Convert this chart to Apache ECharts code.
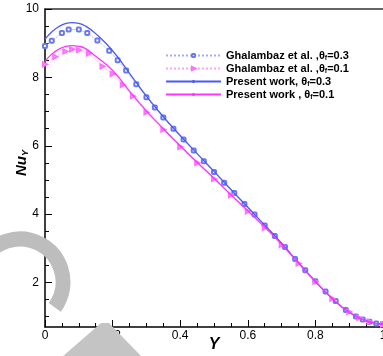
<!DOCTYPE html>
<html>
<head>
<meta charset="utf-8">
<script src="https://cdn.jsdelivr.net/npm/echarts@6/dist/echarts.min.js"></script>
<style>
  html, body { margin: 0; padding: 0; background: #fff; }
  #chart { width: 383px; height: 356px; }
</style>
</head>
<body>
<div id="chart"></div>
<script>
// present work (solid lines)
const presentX = [0, 0.02, 0.04, 0.06, 0.08, 0.1, 0.12, 0.15, 0.2, 0.25, 0.3, 0.35, 0.4, 0.45, 0.5, 0.55, 0.6, 0.65, 0.7, 0.75, 0.8, 0.85, 0.9, 0.95, 1.0];
const present03 = [9.12, 9.33, 9.48, 9.57, 9.6, 9.58, 9.5, 9.28, 8.78, 8.12, 7.45, 6.85, 6.3, 5.77, 5.25, 4.72, 4.2, 3.68, 3.15, 2.58, 2.03, 1.53, 1.13, 0.88, 0.78];
const present01 = [8.47, 8.68, 8.82, 8.9, 8.93, 8.91, 8.84, 8.62, 8.2, 7.6, 7.02, 6.5, 6.0, 5.52, 5.05, 4.57, 4.1, 3.62, 3.12, 2.57, 2.03, 1.53, 1.13, 0.88, 0.78];

// Ghalambaz et al. (symbols + dotted lines)
const ghalX03 = [0, 0.02, 0.05, 0.07, 0.1, 0.125, 0.155, 0.19, 0.215, 0.24, 0.27, 0.3, 0.325, 0.35, 0.38, 0.41, 0.44, 0.47, 0.5, 0.53, 0.56, 0.59, 0.62, 0.65, 0.68, 0.71, 0.74, 0.77, 0.8, 0.83, 0.86, 0.89, 0.92, 0.94, 0.96, 0.98, 1.0];
const ghal03 = [8.92, 9.07, 9.3, 9.4, 9.4, 9.3, 9.08, 8.78, 8.5, 8.2, 7.8, 7.42, 7.12, 6.83, 6.5, 6.18, 5.86, 5.55, 5.23, 4.92, 4.62, 4.3, 3.99, 3.67, 3.36, 3.04, 2.69, 2.36, 2.04, 1.74, 1.46, 1.2, 1.01, 0.92, 0.85, 0.8, 0.78];
const ghalX01 = [0, 0.03, 0.06, 0.08, 0.1, 0.13, 0.17, 0.2, 0.23, 0.26, 0.3, 0.35, 0.4, 0.45, 0.5, 0.55, 0.6, 0.65, 0.7, 0.75, 0.8, 0.85, 0.9, 0.93, 0.96, 1.0];
const ghal01 = [8.38, 8.6, 8.76, 8.82, 8.8, 8.7, 8.32, 8.1, 7.78, 7.45, 6.98, 6.47, 5.97, 5.5, 5.03, 4.56, 4.08, 3.6, 3.1, 2.56, 2.03, 1.53, 1.14, 0.97, 0.86, 0.78];

// ticks
const xTicks = [0, 0.2, 0.4, 0.6, 0.8, 1];
const yTicks = [2, 4, 6, 8, 10];
const yMinorTicks = [1, 1.5, 2.5, 3, 3.5, 4.5, 5, 5.5, 6.5, 7, 7.5, 8.5, 9, 9.5];

// legend labels: prefix + subscript f + suffix
const seriesNames = ['G03', 'G01', 'P03', 'P01'];
const legendPre = ['Ghalambaz et al. ,θ', 'Ghalambaz et al. ,θ', 'Present work, θ', 'Present work , θ'];
const legendPost = ['=0.3', '=0.1', '=0.3', '=0.1'];

const FONT = '"Liberation Sans", Arial, sans-serif';
const BLUE = '#4a5af2';
const MAGENTA = '#ff33ff';

const pairs = (xs, ys) => xs.map((x, i) => [x, ys[i]]);

const chart = echarts.init(document.getElementById('chart'));
chart.setOption({
  animation: false,
  textStyle: { fontFamily: FONT },
  grid: { left: 45, right: 0, top: 9, bottom: 29, outerBoundsMode: 'none', containLabel: false },
  legend: {
    orient: 'vertical',
    left: 160,
    top: 45,
    itemWidth: 55,
    itemHeight: 4,
    itemGap: 1,
    data: seriesNames,
    formatter: (name) => {
      const i = seriesNames.indexOf(name);
      return '{t|' + legendPre[i] + '}{s|f}{t|' + legendPost[i] + '}';
    },
    textStyle: {
      padding: [0, 0, 0, 0],
      rich: {
        t: { fontSize: 11, fontWeight: 'bold', color: '#000', fontFamily: FONT, lineHeight: 13 },
        s: { fontSize: 7, fontWeight: 'bold', color: '#000', fontFamily: FONT, padding: [6, 0, 0, 0] }
      }
    }
  },
  xAxis: [
    {
      type: 'value', min: 0, max: 1, interval: 0.2,
      name: 'Y', nameLocation: 'middle', nameGap: 10, nameMoveOverlap: false,
      nameTextStyle: { fontSize: 16, fontWeight: 'bold', fontStyle: 'italic', color: '#000', fontFamily: FONT },
      axisLine: { lineStyle: { color: '#000', width: 1.5 } },
      axisTick: { inside: true, length: 7, lineStyle: { color: '#000' }, customValues: xTicks },
      minorTick: { show: true, splitNumber: 4, length: 4, lineStyle: { color: '#000' } },
      axisLabel: { margin: 3, fontSize: 12, color: '#000', customValues: xTicks },
      splitLine: { show: false }
    },
    {
      type: 'value', min: 0, max: 1, position: 'top',
      axisLine: { show: true, lineStyle: { color: '#333', width: 1.5 } },
      axisTick: { show: false }, axisLabel: { show: false }, splitLine: { show: false }
    }
  ],
  yAxis: [
    {
      type: 'value', min: 0.7, max: 10,
      name: '{n|Nu}{s|Y}', nameLocation: 'middle', nameRotate: 90, nameGap: 15, nameMoveOverlap: false,
      nameTextStyle: {
        padding: [0, 0, 0, 10],
        rich: {
          n: { fontSize: 15, fontWeight: 'bold', fontStyle: 'italic', color: '#000', fontFamily: FONT },
          s: { fontSize: 9, fontWeight: 'bold', fontStyle: 'italic', color: '#000', fontFamily: FONT, padding: [7, 0, 0, 0] }
        }
      },
      axisLine: { show: true, lineStyle: { color: '#000', width: 1.5 } },
      axisTick: { inside: true, length: 7, lineStyle: { color: '#000' }, customValues: yTicks },
      axisLabel: { margin: 6, fontSize: 12, color: '#000', customValues: yTicks },
      splitLine: { show: false }
    },
    {
      type: 'value', min: 0.7, max: 10, position: 'left',
      axisLine: { show: false },
      axisTick: { show: true, inside: true, length: 4, lineStyle: { color: '#000' }, customValues: yMinorTicks },
      axisLabel: { show: false }, splitLine: { show: false }
    }
  ],
  series: [
    {
      name: 'G03', type: 'line', data: pairs(ghalX03, ghal03),
      symbol: 'emptyRoundRect', symbolSize: 4,
      itemStyle: { color: '#6a78f0', borderWidth: 1 },
      lineStyle: { color: '#a5adf6', type: 'dotted', width: 1 },
      z: 3
    },
    {
      name: 'G01', type: 'line', data: pairs(ghalX01, ghal01),
      symbol: 'emptyTriangle', symbolRotate: -90, symbolSize: 4,
      itemStyle: { color: '#ff70ff', borderWidth: 1 },
      lineStyle: { color: '#ffa3ff', type: 'dotted', width: 1 },
      z: 3
    },
    {
      name: 'P03', type: 'line', data: pairs(presentX, present03),
      smooth: true, showSymbol: false, symbol: 'none',
      lineStyle: { color: BLUE, width: 1.3 }, itemStyle: { color: BLUE },
      z: 4
    },
    {
      name: 'P01', type: 'line', data: pairs(presentX, present01),
      smooth: true, showSymbol: false, symbol: 'none',
      lineStyle: { color: MAGENTA, width: 1.3 }, itemStyle: { color: MAGENTA },
      z: 4
    }
  ],
  graphic: [
    {
      type: 'arc', z: 100,
      shape: { cx: 20, cy: 282, r: 43, startAngle: Math.PI * 0.9, endAngle: Math.PI * 2 + 0.63, clockwise: true },
      style: { stroke: '#bdbdbd', lineWidth: 15, fill: null }
    },
    {
      type: 'polygon', z: 100,
      shape: { points: [[62, 357], [101, 323], [109, 323], [142, 357]] },
      style: { fill: '#c4c4c4' }
    }
  ]
});
</script>
</body>
</html>
